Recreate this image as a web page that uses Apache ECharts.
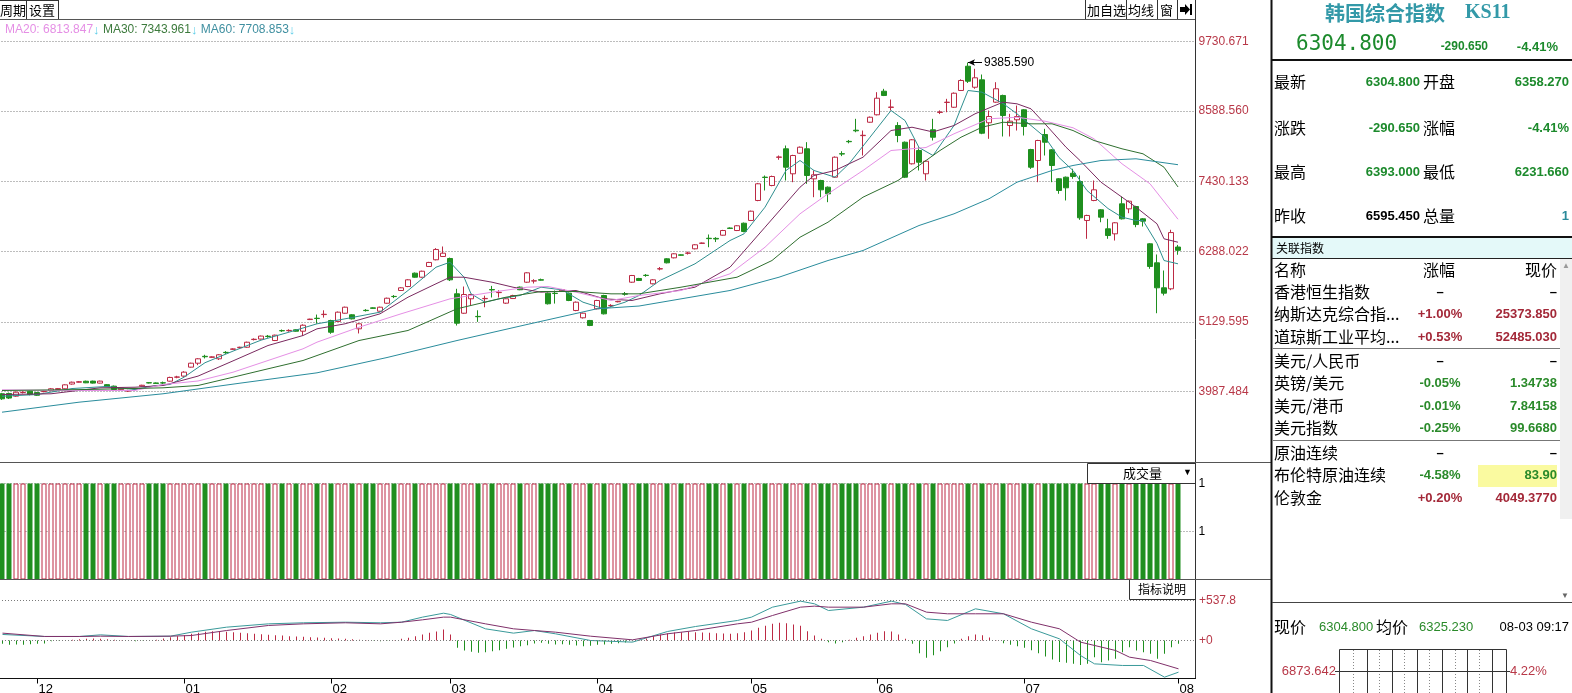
<!DOCTYPE html>
<html><head><meta charset="utf-8">
<script src="https://cdn.jsdelivr.net/npm/echarts@6/dist/echarts.min.js"></script>
<style>html,body{margin:0;padding:0;background:#fff;}#c{width:1572px;height:693px;}</style>
</head><body><div id="c"></div>
<script>
// ---------------- DATA ----------------
const opens = [3950,3955,3911,3970,3992,3970,3985,4000,4020,4032,
4110,4140,4156,4158,4125,4100,4075,4018,3995,4030,
4075,4132,4128,4130,4157,4222,4240,4387,4452,4565,
4548,4524,4630,4680,4707,4714,4840,4848,4895,4824,
4987,4985,5000,4977,5168,5190,5250,5152,5137,5272,
5246,5016,5320,5360,5305,5436,5548,5645,5710,5929,
5863,6039,6149,6203,6170,5591,5272,5509,5220,5510,
5660,5610,5437,5513,5700,5781,5800,5822,5601,5600,
5640,5601,5317,5197,5153,5345,5563,5395,5460,5590,
5781,5842,5895,5755,5998,6165,6181,6230,6256,6329,
6418,6502,6500,6552,6670,6629,6749,6794,7122,7505,
7368,7830,7970,7560,7898,7970,7477,7450,7340,7504,
7890,8092,8275,8186,8406,8528,8915,8650,8352,8078,
7724,7942,7560,8282,8567,8730,8652,8927,9325,8980,
9102,8397,8735,8845,8352,8446,8610,7958,7778,8204,
7953,7478,7504,7569,7433,6794,7122,6969,6657,6575,
7067,6985,7023,6821,6411,6099,5689,5673,6358.27];
const closes = [3868,3880,3976,3975,3938,3926,3990,4032,4035,4097,
4140,4148,4130,4125,4158,4070,4020,4043,4000,4032,
4090,4128,4120,4127,4218,4226,4305,4452,4524,4558,
4556,4590,4625,4686,4714,4796,4845,4897,4890,4912,
4983,4990,4977,5075,5175,5185,5255,4960,5289,5371,
5180,5098,5315,5352,5371,5518,5545,5689,5820,5863,
5961,6105,6318,6257,5820,5108,5579,5579,5215,5515,
5655,5615,5509,5562,5657,5935,5805,5815,5427,5595,
5660,5481,5453,5272,5071,5481,5262,5400,5467,5585,
5891,5809,5891,5820,6003,6099,6247,6223,6260,6395,
6424,6496,6490,6629,6664,6707,6613,6946,7396,7499,
7515,7836,7668,7860,7996,7532,7543,7297,7231,7832,
7884,8086,8265,8192,8488,8800,8845,8655,8188,7504,
8118,7750,7766,8160,8573,8735,8882,9091,9079,9135,
8226,8500,8955,8516,8423,8500,8336,7668,8106,8078,
7696,7286,7330,7515,6838,6876,7297,6848,6547,6756,
6821,7110,6727,6782,6039,5689,5601,6595.45,6304.8];
const lows = [3850,3865,3900,3955,3925,3915,3975,3995,4010,4025,
4100,4135,4125,4118,4120,4062,4010,4010,3980,4020,
4068,4120,4112,4110,4150,4205,4230,4380,4420,4530,
4540,4505,4605,4672,4700,4705,4825,4840,4870,4815,
4965,4968,4970,4900,5160,5100,5200,4934,5130,5265,
5170,4940,5300,5345,5298,5428,5520,5638,5700,5855,
5855,6030,6140,6195,5800,5070,5262,5399,5130,5370,
5530,5530,5425,5505,5650,5770,5760,5808,5415,5430,
5630,5470,5305,5185,5060,5335,5252,5370,5450,5560,
5770,5800,5870,5745,5975,6090,6172,6215,6235,6320,
6410,6355,6440,6545,6655,6620,6600,6785,7110,7286,
7355,7790,7450,7422,7890,7395,7176,7176,7094,7495,
7850,8060,8242,7860,8398,8518,8835,8598,8078,7490,
7712,7614,7450,8106,8540,8570,8640,8918,9050,8955,
8210,8134,8725,8172,8172,8270,8188,7640,7422,7860,
7422,7232,7122,7478,6805,6493,7110,6765,6493,6465,
6810,6913,6683,6695,6001,5272,5563,5650,6231.66];
const highs = [3965,3970,3990,3990,4000,3980,4000,4045,4045,4105,
4150,4160,4165,4165,4165,4110,4085,4050,4015,4040,
4098,4140,4136,4150,4230,4245,4320,4460,4535,4590,
4565,4600,4650,4695,4722,4805,4860,4905,4915,4920,
5005,5008,5008,5090,5182,5250,5320,5165,5300,5380,
5255,5110,5340,5368,5380,5528,5570,5698,5830,5940,
5970,6115,6340,6367,6185,5673,5710,5590,5320,5560,
5720,5650,5520,5575,5710,5945,5830,5840,5612,5645,
5670,5612,5465,5282,5162,5492,5575,5420,5475,5620,
5900,5852,5915,5830,6030,6175,6256,6238,6282,6405,
6432,6564,6520,6640,6680,6716,6760,6956,7410,7532,
7530,7860,8024,7872,8008,8079,7614,7462,7352,7845,
7930,8115,8462,8270,8500,8899,8954,8779,8407,8090,
8130,7996,7778,8462,8600,8790,8895,9110,9385.59,9283,
9189,8598,9063,8858,8544,8680,8622,7970,8118,8298,
7965,7490,7515,7642,7532,6888,7450,6980,6821,6768,
7187,7122,7035,6832,6422,6236,5973,6641,6393];
const volumes = [1,1,1,1,1,1,1,1,1,1, 1,1,1,1,1,1,1,1,1,1, 1,1,1,1,1,1,1,1,1,1,
1,1,1,1,1,1,1,1,1,1, 1,1,1,1,1,1,1,1,1,1, 1,1,1,1,1,1,1,1,1,1,
1,1,1,1,1,1,1,1,1,1, 1,1,1,1,1,1,1,1,1,1, 1,1,1,1,1,1,1,1,1,1,
1,1,1,1,1,1,1,1,1,1, 1,1,1,1,1,1,1,1,1,1, 1,1,1,1,1,1,1,1,1,1,
1,1,1,1,1,1,1,1,1,1, 1,1,1,1,1,1,1,1,1,1, 1,1,1,1,1,1,1,1,1,1,
1,1,1,1,1,1,1,1,1,1, 1,1,1,1,1,1,1,1,1];

const ma5Idx = [0,5,10,15,19,22,24,26,29,33,37,41,45,49,54,58,62,64,66,67,69,71,74,77,80,83,86,89,91,94,99,104,106,109,112,114,116,119,121,124,127,129,131,133,136,138,140,143,145,147,149,151,153,155,158,160,162,163,165,166,168];
const ma5Val = [3910,3938,4036,4070,4020,4086,4102,4222,4460,4650,4830,4961,5098,5180,5289,5645,6027,6109,5863,5591,5453,5508,5563,5699,5656,5453,5344,5453,5563,5809,6083,6465,6575,7012,7614,7778,7614,7504,7724,8160,8598,8434,7991,7860,8352,8927,8899,8713,8544,8352,8160,7827,7614,7286,6990,6848,6794,6794,6416,6137,6083];
const ma10Idx = [0,7,14,19,23,28,33,38,43,45,49,54,58,62,64,66,70,73,77,82,86,90,94,99,104,109,114,116,119,123,127,130,133,136,139,143,145,147,149,152,154,157,160,162,165,166,168];
const ma10Val = [3938,3950,4048,4058,4086,4240,4490,4742,4906,5016,5098,5262,5535,5755,5863,5863,5781,5699,5617,5645,5509,5481,5591,5699,6027,6683,7340,7532,7614,7832,8270,8324,8246,8352,8544,8735,8708,8626,8380,7996,7778,7422,7176,7012,6739,6493,6437];
const ma20Idx = [0,10,19,23,28,33,38,43,45,51,57,64,70,75,78,82,87,91,97,104,109,114,118,123,127,132,136,141,145,149,153,156,160,164,168];
const ma20Val = [4015,4004,4004,4102,4160,4304,4496,4688,4797,5042,5262,5508,5617,5699,5710,5617,5481,5563,5645,5919,6355,6903,7232,7614,7942,7991,8216,8462,8488,8423,8315,8134,7724,7396,6813.847];
const ma30Idx = [0,12,23,28,33,38,43,45,51,58,65,72,77,82,87,91,97,105,110,114,118,123,128,131,134,137,140,143,147,150,153,156,160,163,166,168];
const ma30Val = [4004,4020,4048,4086,4222,4360,4496,4578,4824,4989,5345,5535,5628,5628,5590,5590,5699,5863,6137,6519,6766,7176,7450,7696,7942,8160,8324,8406,8380,8380,8270,8106,7970,7888,7668,7343.961];
const ma60Idx = [0,11,23,34,45,55,65,75,85,91,104,111,118,123,131,136,141,145,150,153,157,162,168];
const ma60Val = [3648,3812,3950,4124,4294,4545,4824,5087,5345,5390,5645,5863,6137,6301,6711,6903,7150,7422,7614,7696,7778,7806,7708.853];

const macdHist = [-45,-58,-54,-58,-50,-45,-40,-10,-5,5,
10,18,22,27,22,18,10,4,-4,-9,
-4,4,9,27,45,58,72,90,103,116,
125,121,116,112,103,99,90,85,76,72,
67,58,54,49,45,40,36,31,27,22,
18,9,4,-4,-9,-4,4,22,36,58,
80,103,120,148,81,-99,-134,-152,-166,-157,
-143,-130,-112,-94,-76,-63,-40,-31,-45,-54,
-49,-58,-67,-76,-72,-58,-54,-45,-36,-27,
-9,9,27,58,81,99,107,112,116,112,
107,103,99,94,90,99,112,134,170,197,
224,237,233,215,197,125,67,22,-22,-40,
-22,9,36,58,81,103,125,120,81,22,
-45,-170,-233,-197,-143,-90,-40,22,58,81,
72,40,4,-36,-58,-76,-99,-130,-170,-215,
-255,-290,-300,-314,-330,-314,-224,-291,-269,-246,
-157,-90,-134,-157,-179,-246,-179,-90,-45];
const difIdx = [0,6,11,14,18,24,27,32,38,43,49,54,57,60,63,64,69,73,76,79,84,90,95,99,105,107,110,114,116,118,123,127,129,132,135,139,143,147,151,154,156,160,163,166,168];
const difVal = [81,54,54,76,54,58,112,179,224,238,246,238,246,314,367,350,157,99,134,90,0,-22,121,188,269,314,448,529,493,403,448,529,484,291,269,426,359,157,22,-202,-314,-336,-336,-493,-426];
const deaIdx = [0,6,11,14,18,24,27,32,38,43,49,54,57,60,63,64,69,73,76,79,84,90,95,99,105,107,110,114,116,118,123,127,129,132,135,139,143,147,151,154,159,161,164,168];
const deaVal = [99,54,54,58,54,58,67,134,202,224,238,224,246,278,314,314,224,157,134,112,58,9,90,134,224,246,336,448,462,448,448,493,493,381,359,359,359,246,157,-22,-134,-224,-269,-381];

const priceTicks = [9730.671, 8588.560, 7430.133, 6288.022, 5129.595, 3987.484];
const macdTicks = [537.8, 0];
const monthLabels = ['12','01','02','03','04','05','06','07','08'];
const monthStartIdx = [5,26,47,64,85,107,125,146,168];
const highIdx = 138, highVal = 9385.59;
const maLegend = [['MA20','6813.847'],['MA30','7343.961'],['MA60','7708.853']];
const slotCount = 171;

// ---------------- STYLE ----------------
const RED = '#bc2a44', GREEN = '#1f8f1f', AXRED = '#b83848';
const CJK = '"Noto Sans CJK SC", sans-serif';
const LAT = '"Liberation Sans", Arial, sans-serif';

const categories = [];
for (let i = 0; i < slotCount; i++) categories.push(String(i));
const zip = (a, b) => a.map((x, k) => [x, b[k]]);

const candleData = opens.map((o, i) => [o, closes[i], lows[i], highs[i]]);
const volData = volumes.map((v, i) => ({value: v, itemStyle: closes[i] >= opens[i]
  ? {color: '#fff', borderColor: RED, borderWidth: 1} : {color: GREEN}}));
const histData = macdHist.map(v => ({value: v, itemStyle: {color: v >= 0 ? RED : GREEN}}));

function ma(name, idx, val, color) {
  return {name, type: 'line', xAxisIndex: 0, yAxisIndex: 0, data: zip(idx, val), showSymbol: false,
    symbol: 'none', lineStyle: {color, width: 1}, z: 4, silent: true};
}
function T(x, y, text, o) {
  o = o || {};
  return {type: 'text', x, y, silent: true, z: 100, style: Object.assign({text, fill: '#000', font: '13px ' + LAT,
    align: 'left', verticalAlign: 'middle', textAlign: 'left', textVerticalAlign: 'middle'}, o)};
}
function L(x1, y1, x2, y2, c, w, dash) {
  const st = {stroke: c || '#333', lineWidth: w || 1};
  if (dash) st.lineDash = dash;
  return {type: 'line', silent: true, z: 90, shape: {x1, y1, x2, y2}, style: st};
}
function R(x, y, w, h, fill, stroke) {
  return {type: 'rect', silent: true, z: 80, shape: {x, y, width: w, height: h}, style: {fill: fill || '#fff', stroke: stroke || null, lineWidth: 1}};
}
const right = (o) => Object.assign({align: 'right', textAlign: 'right'}, o);
const center = (o) => Object.assign({align: 'center', textAlign: 'center'}, o);

const gfx = [];
// header bar
gfx.push(L(0, 0.5, 58, 0.5, '#333'), L(26.5, 0, 26.5, 19, '#333'), L(58.5, 0, 58.5, 19, '#333'));
gfx.push(T(0, 10, '周期', {font: '13px ' + CJK}), T(29, 10, '设置', {font: '13px ' + CJK}));
gfx.push(L(1085.5, 0, 1085.5, 19, '#333'), L(1126.5, 0, 1126.5, 19, '#333'), L(1157.5, 0, 1157.5, 19, '#333'), L(1177.5, 0, 1177.5, 19, '#333'));
gfx.push(T(1087, 10, '加自选', {font: '13px ' + CJK}), T(1128, 10, '均线', {font: '13px ' + CJK}), T(1160, 10, '窗', {font: '13px ' + CJK}));
gfx.push({type: 'polygon', silent: true, z: 100, shape: {points: [[1180, 7], [1185, 7], [1185, 4], [1190, 9.5], [1185, 15], [1185, 12], [1180, 12]]}, style: {fill: '#000'}});
gfx.push(R(1190, 4, 2, 11, '#000'));
gfx.push(L(0, 19.5, 1196, 19.5, '#555'));
// legend
gfx.push({type: 'text', x: 5, y: 30, silent: true, z: 100, style: {
  text: maLegend.map((m, k) => '{m' + k + '|' + m[0] + ': ' + m[1] + '}{a|↓}').join(' '),
  font: '12px ' + LAT, verticalAlign: 'middle', textVerticalAlign: 'middle',
  rich: {m0: {fill: '#e58fe5', font: '12px ' + LAT}, m1: {fill: '#3c7a3c', font: '12px ' + LAT},
         m2: {fill: '#3f8fa0', font: '12px ' + LAT}, a: {fill: '#5ccde8', font: '13px ' + LAT}}}});
// panel borders
gfx.push(L(1195.5, 0, 1195.5, 679, '#333'));
gfx.push(L(0, 462.5, 1272, 462.5, '#555'));
gfx.push(L(0, 579.5, 1272, 579.5, '#555'));
gfx.push(L(0, 678.5, 1196, 678.5, '#111'));
// volume header + indicator button
gfx.push(R(1087.5, 463.5, 108, 20, '#fff', '#333'));
gfx.push(T(1123, 473, '成交量', {font: '13px ' + CJK}), T(1183, 473, '▼', {font: '9px ' + LAT}));
gfx.push(R(1129.5, 579.5, 66, 20, '#fff', '#333'));
gfx.push(T(1138, 589, '指标说明', {font: '12px ' + CJK}));

// right panel
gfx.push(L(1271.5, 0, 1271.5, 693, '#111', 2));
gfx.push(T(1325, 13, '韩国综合指数', {font: 'bold 20px ' + CJK, fill: '#3399a8'}));
gfx.push(T(1465, 13, 'KS11', {font: 'bold 20px "Liberation Serif", serif', fill: '#3399a8'}));
gfx.push(T(1296, 45, '6304.800', {font: '21px "DejaVu Sans Mono", monospace', fill: '#1c8a2c'}));
gfx.push(T(1488, 47, '-290.650', right({font: 'bold 12px ' + LAT, fill: '#1c8a2c'})));
gfx.push(T(1558, 47, '-4.41%', right({font: 'bold 13px ' + LAT, fill: '#1c8a2c'})));
gfx.push(L(1271, 60, 1572, 60, '#111', 2));
const infoRows = [[82, '最新', '6304.800', '开盘', '6358.270', '#1c8a2c', '#1c8a2c'],
                  [128, '涨跌', '-290.650', '涨幅', '-4.41%', '#1c8a2c', '#1c8a2c'],
                  [172, '最高', '6393.000', '最低', '6231.660', '#1c8a2c', '#1c8a2c'],
                  [216, '昨收', '6595.450', '总量', '1', '#000', '#2a8a9a']];
infoRows.forEach(r => {
  gfx.push(T(1274, r[0], r[1], {font: '16px ' + CJK}));
  gfx.push(T(1420, r[0], r[2], right({font: 'bold 13px ' + LAT, fill: r[5]})));
  gfx.push(T(1423, r[0], r[3], {font: '16px ' + CJK}));
  gfx.push(T(1569, r[0], r[4], right({font: 'bold 13px ' + LAT, fill: r[6]})));
});
gfx.push(L(1271, 237, 1572, 237, '#111', 2));
gfx.push(R(1272, 238, 300, 20, '#e4f9f9'));
gfx.push(T(1276, 248, '关联指数', {font: '12px ' + CJK}));
gfx.push(L(1272, 258.5, 1572, 258.5, '#222'));
gfx.push(R(1560, 259, 12, 260, '#f0f0f0'));
gfx.push(T(1566, 266, '▲', center({font: '8px ' + LAT, fill: '#999'})));
gfx.push(T(1274, 270, '名称', {font: '16px ' + CJK}));
gfx.push(T(1439, 270, '涨幅', center({font: '16px ' + CJK})));
gfx.push(T(1557, 270, '现价', right({font: '16px ' + CJK})));
const relRows = [[292, '香港恒生指数', '–', '–', '#000'],
  [314, '纳斯达克综合指...', '+1.00%', '25373.850', '#a32838'],
  [337, '道琼斯工业平均...', '+0.53%', '52485.030', '#a32838'],
  [361, '美元/人民币', '–', '–', '#000'],
  [383, '英镑/美元', '-0.05%', '1.34738', '#2a8a2a'],
  [406, '美元/港币', '-0.01%', '7.84158', '#2a8a2a'],
  [428, '美元指数', '-0.25%', '99.6680', '#2a8a2a'],
  [453, '原油连续', '–', '–', '#000'],
  [475, '布伦特原油连续', '-4.58%', '83.90', '#2a8a2a'],
  [498, '伦敦金', '+0.20%', '4049.3770', '#a32838']];
gfx.push(R(1478, 465, 79, 22, '#fafaa0'));
relRows.forEach(r => {
  gfx.push(T(1274, r[0], r[1], {font: '16px ' + CJK}));
  gfx.push(T(1440, r[0], r[2], center({font: 'bold 13px ' + LAT, fill: r[4]})));
  gfx.push(T(1557, r[0], r[3], right({font: 'bold 13px ' + LAT, fill: r[4]})));
});
gfx.push(L(1273, 348.5, 1560, 348.5, '#777'), L(1273, 440.5, 1560, 440.5, '#777'));
gfx.push(L(1272, 602.5, 1572, 602.5, '#444'));
gfx.push(T(1565, 596, '▼', center({font: '8px ' + LAT, fill: '#666'})));
gfx.push(T(1274, 627, '现价', {font: '16px ' + CJK}));
gfx.push(T(1319, 627, '6304.800', {font: '13px ' + LAT, fill: '#2a8a2a'}));
gfx.push(T(1376, 627, '均价', {font: '16px ' + CJK}));
gfx.push(T(1419, 627, '6325.230', {font: '13px ' + LAT, fill: '#2a8a2a'}));
gfx.push(T(1569, 627, '08-03 09:17', right({font: '13px ' + LAT})));
gfx.push(R(1339.5, 649.5, 167, 50, '#fff', '#333'));
[1367, 1392, 1417, 1442, 1467, 1492].forEach(x => gfx.push(L(x + 0.5, 650, x + 0.5, 693, '#333')));
[1353, 1379, 1404, 1429, 1455, 1479].forEach(x => gfx.push(L(x + 0.5, 650, x + 0.5, 693, '#888', 1, [1, 2])));
gfx.push(L(1335, 671.5, 1510, 671.5, '#333'));
gfx.push(T(1336, 671, '6873.642', right({font: '13px ' + LAT, fill: AXRED})));
gfx.push(T(1510, 671, '4.22%', {font: '13px ' + LAT, fill: AXRED}));
gfx.push(T(1336, 698, '6734.546', right({font: '13px ' + LAT, fill: AXRED})));
gfx.push(T(1510, 698, '2.11%', {font: '13px ' + LAT, fill: AXRED}));

// ---------------- CHART ----------------
const gridBase = {width: 1197, show: false, outerBoundsMode: 'none', containLabel: false};
const dotted = {type: [1, 2], color: '#7a7a7a', width: 1};

const option = {
  animation: false,
  backgroundColor: '#fff',
  grid: [
    Object.assign({left: -1.5, top: 19.5, height: 443}, gridBase),
    Object.assign({left: -1.5, top: 483.5, height: 96}, gridBase),
    Object.assign({left: -1, top: 579.5, height: 99}, gridBase)
  ],
  xAxis: [0, 1, 2].map(g => ({
    type: 'category', gridIndex: g, data: categories, boundaryGap: true, position: 'bottom',
    axisLine: {show: false, onZero: false}, axisTick: g === 2 ? {show: true, alignWithLabel: true, length: 5, lineStyle: {color: '#000'},
      interval: (i) => monthStartIdx.indexOf(i) >= 0} : {show: false},
    axisLabel: g === 2 ? {show: true, interval: (i) => monthStartIdx.indexOf(i) >= 0,
      formatter: (v, i) => { const k = monthStartIdx.indexOf(Number(v)); return k >= 0 ? monthLabels[k] : ''; },
      align: 'left', margin: 4, padding: [0, 0, 0, 1], color: '#000', fontSize: 13, fontFamily: LAT} : {show: false},
    splitLine: {show: false}
  })),
  yAxis: [
    {type: 'value', gridIndex: 0, min: 2822.5, max: 10091.7, show: false, splitLine: {show: false}},
    {type: 'value', gridIndex: 1, min: 0, max: 1, interval: 0.5, position: 'right',
      axisLine: {show: false}, axisTick: {show: false},
      axisLabel: {show: true, margin: 3, color: '#000', fontSize: 12, fontFamily: LAT, formatter: v => v > 0 ? '1' : ''},
      splitLine: {show: true, lineStyle: dotted}},
    {type: 'value', gridIndex: 2, min: -511, max: 820, show: false, splitLine: {show: false}}
  ],
  graphic: {elements: gfx},
  series: [
    {
      name: 'K', type: 'candlestick', xAxisIndex: 0, yAxisIndex: 0, data: candleData, barWidth: 5, z: 3,
      itemStyle: {color: '#fff', color0: GREEN, borderColor: RED, borderColor0: GREEN, borderWidth: 1},
      markLine: {
        silent: true, symbol: ['none', 'none'], animation: false, z: 1,
        lineStyle: dotted,
        label: {show: true, position: 'end', distance: 3, color: AXRED, fontSize: 12, fontFamily: LAT},
        data: priceTicks.map(v => ({yAxis: v, label: {formatter: v.toFixed(3)}})).concat([[
          {coord: [highIdx, highVal], symbol: 'arrow', symbolSize: [5, 7], lineStyle: {type: 'solid', color: '#000', width: 1}},
          {coord: [highIdx + 2, highVal], symbol: 'none',
            label: {show: true, position: 'end', distance: 2, color: '#000', fontSize: 12, fontFamily: LAT, formatter: highVal.toFixed(3)}}
        ]])
      }
    },
    ma('MA5', ma5Idx, ma5Val, '#2f8f8f'),
    ma('MA10', ma10Idx, ma10Val, '#7a2a60'),
    ma('MA20', ma20Idx, ma20Val, '#e58fe5'),
    ma('MA30', ma30Idx, ma30Val, '#2f6f2f'),
    ma('MA60', ma60Idx, ma60Val, '#2a8c9c'),
    {name: 'VOL', type: 'bar', xAxisIndex: 1, yAxisIndex: 1, data: volData, barWidth: 5, silent: true},
    {name: 'MACD', type: 'bar', xAxisIndex: 2, yAxisIndex: 2, data: histData, barWidth: 1, silent: true,
      markLine: {silent: true, symbol: ['none', 'none'], animation: false, lineStyle: dotted,
        label: {show: true, position: 'end', distance: 3, color: AXRED, fontSize: 12, fontFamily: LAT},
        data: macdTicks.map(v => ({yAxis: v, label: {formatter: '+' + v}}))}},
    {name: 'DIF', type: 'line', xAxisIndex: 2, yAxisIndex: 2, data: zip(difIdx, difVal), showSymbol: false, symbol: 'none',
      lineStyle: {color: '#3a9a9a', width: 1}, silent: true},
    {name: 'DEA', type: 'line', xAxisIndex: 2, yAxisIndex: 2, data: zip(deaIdx, deaVal), showSymbol: false, symbol: 'none',
      lineStyle: {color: '#80306a', width: 1}, silent: true}
  ]
};
const chart = echarts.init(document.getElementById('c'), null, {renderer: 'canvas', width: 1572, height: 693});
chart.setOption(option);
</script>
</body></html>
